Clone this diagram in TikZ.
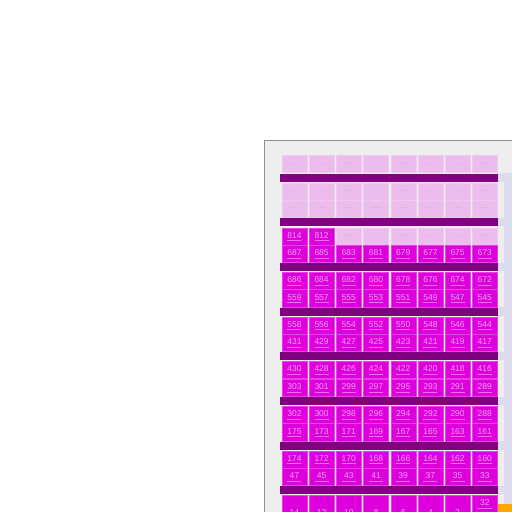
\documentclass[tikz,border=0pt]{standalone}
\usepackage{fontspec}
\setmainfont{Liberation Sans}
\usetikzlibrary{positioning}

\definecolor{panelgray}{HTML}{EEEEEE}
\definecolor{edgegray}{HTML}{909090}
\definecolor{lavender}{HTML}{DCDCEE}
\definecolor{seatfill}{HTML}{DD00DD}
\definecolor{seatfree}{HTML}{ECBCEC}
\definecolor{seattext}{HTML}{F4A0F4}
\definecolor{freetext}{HTML}{DCA6DC}
\definecolor{aislefill}{HTML}{800080}
\definecolor{aisletext}{HTML}{A755A7}
\definecolor{stageorange}{HTML}{FFA500}

\tikzset{
  seatbox/.style={fill=seatfill, draw=seatfill!75!white, line width=0.4pt, anchor=north west,
    minimum width=25pt, minimum height=17.2pt, inner sep=0pt, text depth=2pt,
    text=seattext, font=\fontsize{8.5}{9}\selectfont},
  tallbox/.style={seatbox, minimum height=36pt},
  freebox/.style={fill=seatfree, draw=seatfree!80!white, line width=0.4pt, anchor=north west,
    minimum width=25pt, minimum height=17.2pt, inner sep=0pt,
    text=freetext, font=\fontsize{7}{7}\selectfont},
  aislebar/.style={fill=aislefill, draw=none, anchor=north west, minimum width=217.5pt,
    minimum height=8.3pt, inner sep=0pt, text=aisletext, font=\fontsize{5}{5}\selectfont},
  subline/.style={draw=seattext, line width=0.5pt, opacity=0.7}
}

\begin{document}
\begin{tikzpicture}[x=1pt,y=-1pt]
    \useasboundingbox (0,0) rectangle (512,512);
    \clip (0,0) rectangle (512,512);
    \fill[white] (0,0) rectangle (512,512);

    % hall and its frame
    \fill[panelgray] (264,140) rectangle (512,512);
    \fill[lavender] (497,173.3) rectangle (512,512);
    \foreach \k in {0,...,7}
        \fill[panelgray] (276,173.3+44.67*\k+8.3) rectangle (504,173.3+44.67*\k+44.67);
    \draw[edgegray, line width=1.2pt] (264.6,512) -- (264.6,140.6) -- (512,140.6);
    \node[fill=stageorange, anchor=north west, minimum width=15pt, minimum height=9pt, inner sep=0pt] (stage) at (497,503.3) {};

    % aisles
    \foreach \k in {0,...,7}
        \node[aislebar] (aisle\k) at (280,173.3+44.67*\k) {-};

    % free seats
    \foreach \i in {0,...,7} {
        \node[freebox] (top\i) at (281.7+27.2*\i,155.2) {—};
        \node[freebox] (fa\i) at (281.7+27.2*\i,182.5) {—};
        \node[freebox] (fb\i) at (281.7+27.2*\i,200.0) {—};
    }
    \foreach \i in {2,...,7}
        \node[freebox] (fc\i) at (281.7+27.2*\i,227.5) {—};

    % taken seats
    \foreach \n [count=\i from 0] in {814,812}
        \node[seatbox] (s\n) at (281.7+27.2*\i,227.5) {\n};
    \foreach \i in {0,...,7} {
        \pgfmathtruncatemacro\b{687-2*\i}
        \node[seatbox] (s\b) at (281.7+27.2*\i,245.0) {\b};
    }
    \foreach \ev/\od/\k in {686/559/2, 558/431/3, 430/303/4, 302/175/5, 174/47/6} {
        \foreach \i in {0,...,7} {
            \pgfmathtruncatemacro\a{\ev-2*\i}
            \pgfmathtruncatemacro\b{\od-2*\i}
            \node[seatbox] (s\a) at (281.7+27.2*\i,173.3+44.67*\k+9.2) {\a};
            \node[seatbox] (s\b) at (281.7+27.2*\i,173.3+44.67*\k+26.7) {\b};
        }
    }
    \foreach \n [count=\i from 0] in {14,12,10,8,6,4,2}
        \node[tallbox] (s\n) at (281.7+27.2*\i,495.2) {\n};
    \node[seatbox] (s32) at (281.7+27.2*7,495.2) {32};
    \node[seatbox] (s30) at (281.7+27.2*7,512.6) {};

    % small captions under the numbers
    \foreach \n in {814,812,686,558,430,302,174,687,559,431,303,175,47,
                    684,556,428,300,172,685,557,429,301,173,45,
                    682,554,426,298,170,683,555,427,299,171,43,
                    680,552,424,296,168,681,553,425,297,169,41,
                    678,550,422,294,166,679,551,423,295,167,39,
                    676,548,420,292,164,677,549,421,293,165,37,
                    674,546,418,290,162,675,547,419,291,163,35,
                    672,544,416,288,160,673,545,417,289,161,33,32}
        \draw[subline] ([yshift=-4.3pt]s\n.center) ++(-7,0) -- ++(14,0);
\end{tikzpicture}
\end{document}
